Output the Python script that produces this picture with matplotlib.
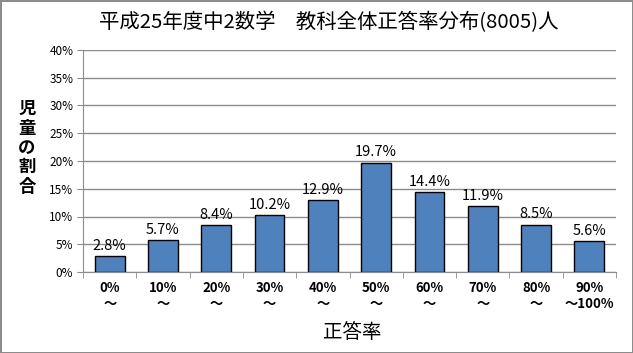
import numpy as np
import matplotlib.pyplot as plt
from matplotlib.ticker import FuncFormatter

plt.rcParams['font.family'] = ['Noto Sans CJK JP', 'DejaVu Sans']

categories = ['0%\n～', '10%\n～', '20%\n～', '30%\n～', '40%\n～',
              '50%\n～', '60%\n～', '70%\n～', '80%\n～', '90%\n～100%']
values = [2.8, 5.7, 8.4, 10.2, 12.9, 19.7, 14.4, 11.9, 8.5, 5.6]

fig = plt.figure(figsize=(6.33, 3.53), dpi=100, edgecolor='#8c8c8c', linewidth=2)
ax = fig.add_axes([83 / 633, 1 - 272 / 353, 533 / 633, 222 / 353])

x = np.arange(len(values))
ax.bar(x, values, width=0.56, color='#4F81BD', edgecolor='black', linewidth=1, zorder=3)
for xi, v in zip(x, values):
    ax.text(xi, v + 0.6, f'{v:.1f}%', ha='center', va='bottom', fontsize=10.5)

ax.set_xlim(-0.5, len(values) - 0.5)
ax.set_ylim(0, 40)
ax.set_yticks(np.arange(0, 41, 5))
ax.yaxis.set_major_formatter(FuncFormatter(lambda v, p: f'{v:.0f}%'))
ax.grid(axis='y', color='#8c8c8c', linewidth=1, zorder=0)

ax.set_xticks(x)
ax.set_xticklabels(categories, fontsize=9.5, fontweight='bold', linespacing=1.15)
ax.set_xticks(np.arange(-0.5, len(values)), minor=True)
ax.tick_params(axis='x', which='major', length=0, pad=6.5)
ax.tick_params(axis='x', which='minor', length=4, color='#8c8c8c')
ax.tick_params(axis='y', length=4, color='#8c8c8c', labelsize=8.5, pad=3)

for s in ['top', 'right']:
    ax.spines[s].set_visible(False)
for s in ['left', 'bottom']:
    ax.spines[s].set_color('#8c8c8c')

fig.text(0.52, 1 - 22 / 353, '平成25年度中2数学\u3000教科全体正答率分布(8005)人',
         ha='center', va='center', fontsize=14.7)
fig.text(27 / 633, 1 - 148 / 353, '児\n童\nの\n割\n合', ha='center', va='center',
         fontsize=12.5, fontweight='bold', linespacing=1.1)
fig.text(352 / 633, 1 - 333 / 353, '正答率', ha='center', va='center', fontsize=14)

fig.savefig('out.png', dpi=100, edgecolor=fig.get_edgecolor())
